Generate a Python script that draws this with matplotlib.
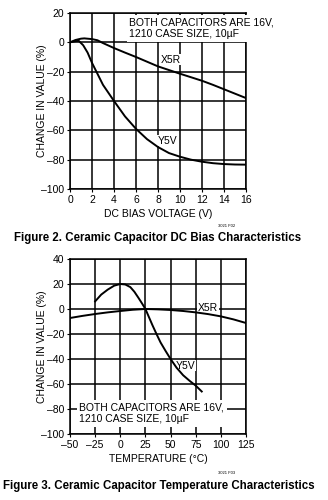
import matplotlib
matplotlib.use("Agg")
import matplotlib.pyplot as plt
import numpy as np

plt.rcParams['font.family'] = ['Liberation Sans Narrow', 'Liberation Sans', 'DejaVu Sans']

# Figure 2 data: DC bias
bias_v = [0, 0.5, 1, 1.3, 2, 2.5, 3, 4, 5, 6, 7, 8, 9, 10, 11, 12, 13, 14, 15, 16]
x5r_bias = [0, 1.6, 2.5, 2.7, 2.2, 1.4, -0.5, -3.9, -7, -10, -13.2, -16.4, -18.9, -21.4, -23.8, -26.2, -29, -32, -35, -38]
y5v_bias_v = [0, 0.5, 0.8, 1.2, 1.6, 2, 2.5, 3, 4, 5, 6, 7, 8, 9, 10, 11, 12, 13, 14, 15, 16]
y5v_bias = [0, 0.8, 1.0, -2, -7, -14, -21.5, -29, -40, -50.5, -59, -66, -71.4, -75.5, -78, -80, -81.4, -82.4, -83, -83.3, -83.4]

# Figure 3 data: temperature
temp_x5r = [-50, -37.5, -25, -12.5, 0, 12.5, 25, 37.5, 50, 62.5, 75, 87.5, 100, 112.5, 125]
x5r_temp = [-7.2, -5.5, -4, -2.7, -1.6, -0.6, 0, -0.3, -0.8, -1.6, -2.7, -4.1, -5.9, -8.3, -11.2]
temp_y5v = [-25, -19, -12.5, -6, 0, 5, 10, 14, 18, 21.5, 25, 28.5, 32, 36, 40, 45, 50, 56, 62.5, 69, 75, 81]
y5v_temp = [6.1, 11.5, 15.5, 18.7, 20, 19.6, 17.5, 13.8, 9.0, 4.6, 0, -6.5, -13, -20, -26.7, -33.5, -40, -47, -53, -57.5, -61.3, -66]

bias_ticks = [0, 2, 4, 6, 8, 10, 12, 14, 16]
bias_yticks = [20, 0, -20, -40, -60, -80, -100]
temp_ticks = [-50, -25, 0, 25, 50, 75, 100, 125]
temp_yticks = [40, 20, 0, -20, -40, -60, -80, -100]

fig = plt.figure(figsize=(3.28, 5.0), dpi=100)

def minus(vals):
    return [str(v).replace('-', '\u2013') for v in vals]

def style(ax):
    ax.grid(True, color='black', linewidth=1.1)
    ax.set_axisbelow(True)
    for s in ax.spines.values():
        s.set_linewidth(1.1)
    ax.tick_params(labelsize=7.5, length=2, width=0.8, pad=2, colors='black')

lab = dict(facecolor='white', edgecolor='none', pad=0.5)

ax1 = fig.add_axes([70/328, 1-189/500, 176/328, 176/500])
ax1.plot(bias_v, x5r_bias, color='black', lw=1.4, zorder=3)
ax1.plot(y5v_bias_v, y5v_bias, color='black', lw=1.4, zorder=3)
ax1.set_xlim(0, 16)
ax1.set_ylim(-100, 20)
ax1.set_xticks(bias_ticks)
ax1.set_yticks(bias_yticks)
ax1.set_yticklabels(minus(bias_yticks))
style(ax1)
ax1.set_xlabel('DC BIAS VOLTAGE (V)', fontsize=7.5, labelpad=3)
ax1.set_ylabel('CHANGE IN VALUE (%)', fontsize=7.5)
ax1.yaxis.set_label_coords(-0.13, 0.5)
ax1.text(5.4, 17, 'BOTH CAPACITORS ARE 16V,\n1210 CASE SIZE, 10\u00b5F', fontsize=7.5,
         va='top', ha='left', linespacing=1.2,
         bbox=dict(facecolor='white', edgecolor='none', pad=2))
ax1.text(9.15, -11.8, 'X5R', fontsize=7.5, ha='center', va='center', bbox=lab, zorder=2.5)
ax1.text(8.9, -67, 'Y5V', fontsize=7.5, ha='center', va='center', bbox=lab, zorder=2.5)

fig.text(227/328, 1-226/500, '3021 F02', fontsize=3, ha='center', va='center')
fig.text(158/328, 1-238/500, 'Figure 2. Ceramic Capacitor DC Bias Characteristics',
         fontsize=8.3, fontweight='bold', ha='center', va='center')

ax2 = fig.add_axes([70/328, 1-434/500, 176/328, 175/500])
ax2.plot(temp_x5r, x5r_temp, color='black', lw=1.4, zorder=3)
ax2.plot(temp_y5v, y5v_temp, color='black', lw=1.4, zorder=3)
ax2.set_xlim(-50, 125)
ax2.set_ylim(-100, 40)
ax2.set_xticks(temp_ticks)
ax2.set_xticklabels(minus(temp_ticks))
ax2.set_yticks(temp_yticks)
ax2.set_yticklabels(minus(temp_yticks))
style(ax2)
ax2.set_xlabel('TEMPERATURE (\u00b0C)', fontsize=7.5, labelpad=3)
ax2.set_ylabel('CHANGE IN VALUE (%)', fontsize=7.5)
ax2.yaxis.set_label_coords(-0.13, 0.5)
ax2.text(-40.7, -75, 'BOTH CAPACITORS ARE 16V,\n1210 CASE SIZE, 10\u00b5F', fontsize=7.5,
         va='top', ha='left', linespacing=1.2,
         bbox=dict(facecolor='white', edgecolor='none', pad=2))
ax2.text(87.5, 0.8, 'X5R', fontsize=7.5, ha='center', va='center', bbox=lab, zorder=2.5)
ax2.text(65, -45.3, 'Y5V', fontsize=7.5, ha='center', va='center', bbox=lab, zorder=2.5)

fig.text(227/328, 1-473/500, '3021 F03', fontsize=3, ha='center', va='center')
fig.text(159/328, 1-486/500, 'Figure 3. Ceramic Capacitor Temperature Characteristics',
         fontsize=8.3, fontweight='bold', ha='center', va='center')

fig.savefig('out.png', dpi=100, facecolor='white')
